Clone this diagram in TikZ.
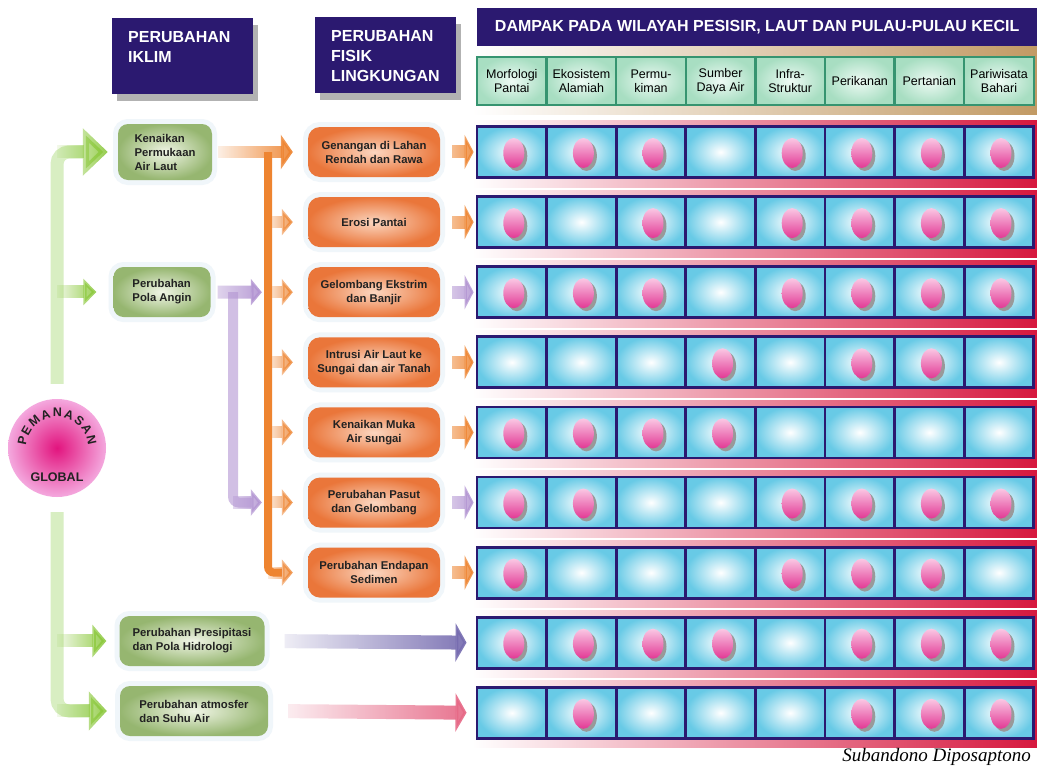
\documentclass[tikz,border=0pt]{standalone}
\usepackage{fontspec}
\setmainfont{Liberation Sans}
\newfontfamily\capserif{Liberation Serif}
\usetikzlibrary{calc,shapes,arrows.meta,fadings,shadows,decorations.text}

\definecolor{navy}{RGB}{43,25,112}
\definecolor{cellcyan}{RGB}{104,202,230}
\definecolor{crimson}{RGB}{214,24,62}
\definecolor{tanbg}{RGB}{194,154,100}
\definecolor{mintin}{RGB}{238,250,244}
\definecolor{mintout}{RGB}{168,222,194}
\definecolor{hdteal}{RGB}{54,148,112}
\definecolor{orgin}{RGB}{251,214,192}
\definecolor{orgout}{RGB}{234,118,58}
\definecolor{grnin}{RGB}{240,245,230}
\definecolor{grnout}{RGB}{150,182,112}
\definecolor{halo}{RGB}{240,246,250}
\definecolor{gpale}{RGB}{216,238,194}
\definecolor{gstrong}{RGB}{138,200,58}
\definecolor{oline}{RGB}{238,132,48}
\definecolor{pstrong}{RGB}{178,148,210}
\definecolor{indigoarr}{RGB}{118,108,176}
\definecolor{rosearr}{RGB}{230,104,134}
\definecolor{pinkin}{RGB}{226,20,126}
\definecolor{pinkout}{RGB}{244,168,222}
\definecolor{dotlt}{RGB}{250,200,228}
\definecolor{dotdk}{RGB}{226,56,148}
\definecolor{ink}{RGB}{34,34,34}

\tikzfading[name=fade in, left color=transparent!100, right color=transparent!0]
\tikzfading[name=fade soft, left color=transparent!75, right color=transparent!0]

\begin{document}
\begin{tikzpicture}[x=1pt,y=-1pt,
    hdr/.style={fill=navy,text=white,anchor=north west,inner xsep=16pt,inner ysep=13pt,
      font=\fontsize{16}{20}\selectfont\bfseries,
      drop shadow={shadow xshift=5pt,shadow yshift=-7pt,fill=black,opacity=.3}},
    colhd/.style={draw=hdteal,line width=2.5pt,inner color=mintin,outer color=mintout,
      minimum width=69.6pt,minimum height=48pt,inner sep=0pt,align=center,
      font=\fontsize{12.5}{14}\selectfont},
    sel/.style={draw=navy,line width=2.8pt,inner color=white,outer color=cellcyan,
      minimum width=69.6pt,minimum height=51pt,inner sep=0pt},
    iklimbox/.style={rounded corners=10pt,inner color=grnin,outer color=grnout,
      preaction={draw=halo,line width=10pt},minimum height=50pt,inner sep=0pt,
      align=left,text=ink,font=\fontsize{11.3}{14}\selectfont\bfseries},
    fisikbox/.style={rounded corners=12pt,inner color=orgin,outer color=orgout,
      preaction={draw=halo,line width=10pt},minimum width=132pt,minimum height=50pt,
      inner sep=0pt,align=center,text=ink,font=\fontsize{11.3}{14}\selectfont\bfseries},
    pmfont/.style={text=ink,inner sep=0pt,font=\fontsize{12.5}{14}\selectfont\bfseries},
    gtrunk/.style={draw=gpale,line width=13pt,rounded corners=12pt,shorten <=15pt},
    garrow/.style={draw=gstrong,line width=13pt,path fading=fade in,fading transform={yscale=8}},
    otrunk/.style={draw=oline,line width=8pt,rounded corners=6pt},
    oarrow/.style={draw=oline,line width=12pt,path fading=fade in,fading transform={yscale=8}},
    ptrunk/.style={draw=pstrong!60!white,line width=10pt,rounded corners=6pt},
    parrow/.style={draw=pstrong,line width=13pt,path fading=fade soft,fading transform={yscale=8}},
    marrow/.style={line width=13pt,path fading=fade soft,fading transform={yscale=8},
      shorten <=12pt,shorten >=2pt,-{Triangle[length=9pt,width=34pt]}},
    larrow/.style={line width=14pt,path fading=fade in,fading transform={yscale=8},
      shorten <=20pt,shorten >=9pt,-{Triangle[length=11pt,width=38pt]}}
  ]
  \useasboundingbox (0,0) rectangle (1037,769);
  \fill[white] (0,0) rectangle (1037,769);

  % latar belakang matriks
  \shade[left color=white,right color=tanbg] (472,46) rectangle (1037,114);
  \foreach \r in {1,...,9}
    \shade[left color=white,right color=crimson] (472,{152+70.1*(\r-1)-32}) rectangle (1037,{152+70.1*(\r-1)+35});

  \node[hdr] (hdiklim) at (112,18) {\parbox[c][50pt][t]{109pt}{PERUBAHAN\\IKLIM}};
  \node[hdr] (hdfisik) at (315,17) {\parbox[c][50pt][t]{109pt}{PERUBAHAN\\FISIK\\LINGKUNGAN}};
  \node[fill=navy,text=white,anchor=north west,minimum width=560pt,minimum height=38pt,inner sep=0pt,
    font=\fontsize{16}{18}\selectfont\bfseries] (hddampak) at (477,8)
    {DAMPAK PADA WILAYAH PESISIR, LAUT DAN PULAU-PULAU KECIL};

  \foreach \c/\txt in {1/{Morfologi\\Pantai},2/{Ekosistem\\Alamiah},3/{Permu-\\kiman},
      4/{Sumber\\Daya Air},5/{Infra-\\Struktur},6/{Perikanan},7/{Pertanian},8/{Pariwisata\\Bahari}}
    \node[colhd] (col\c) at ({477+69.6*(\c-0.5)},81) {\txt};

  \foreach \r in {1,...,9}
    \foreach \c in {1,...,8}
      \node[sel] (sel-\r-\c) at ({477+69.6*(\c-0.5)},{152+70.1*(\r-1)}) {};

  \foreach \r/\pat in {1/{1,1,1,0,1,1,1,1},2/{1,0,1,0,1,1,1,1},3/{1,1,1,0,1,1,1,1},
      4/{0,0,0,1,0,1,1,0},5/{1,1,1,1,0,0,0,0},6/{1,1,0,0,1,1,1,1},7/{1,0,0,0,1,1,1,0},
      8/{1,1,1,1,0,1,1,1},9/{0,1,0,0,0,1,1,1}}
    \foreach \v [count=\c] in \pat {
      \ifnum\v=1
        \fill[black!40] ($(sel-\r-\c)+(5,4)$) ellipse (10.5 and 15);
        \shade[top color=dotlt,bottom color=dotdk] ($(sel-\r-\c)+(2,1)$) ellipse (10.5 and 15);
      \fi
    }

  \node[circle,minimum size=98pt,inner sep=0pt,inner color=pinkin,outer color=pinkout] (global) at (57,448) {};
  \path[decorate,decoration={text along path,text align={fit to path},text color=ink,
      text={|\fontsize{12.5}{14}\selectfont\bfseries|PEMANASAN}}]
    ($(global.center)+(-176:31)$) arc[start angle=-176,end angle=-4,radius=31];
  \node[pmfont] (globword) at ($(global.center)+(0,29)$) {GLOBAL};

  \node[iklimbox,minimum width=94pt,minimum height=56pt] (iklim1) at (165,152) {Kenaikan\\Permukaan\\Air Laut};
  \node[iklimbox,minimum width=97pt] (iklim2) at (162,292) {Perubahan\\Pola Angin};
  \node[iklimbox,minimum width=145pt] (iklim3) at (192,641) {Perubahan Presipitasi\\dan Pola Hidrologi};
  \node[iklimbox,minimum width=148pt] (iklim4) at (194,711) {Perubahan atmosfer\\dan Suhu Air};

  \foreach \i/\txt in {1/{Genangan di Lahan\\Rendah dan Rawa},2/{Erosi Pantai},
      3/{Gelombang Ekstrim\\dan Banjir},4/{Intrusi Air Laut ke\\Sungai dan air Tanah},
      5/{Kenaikan Muka\\Air sungai},6/{Perubahan Pasut\\dan Gelombang},7/{Perubahan Endapan\\Sedimen}}
    \node[fisikbox] (fisik\i) at (374,{152+70.1*(\i-1)}) {\txt};

  % panah hijau dari pemanasan global
  \draw[gtrunk] (global.north) |- ([xshift=-35pt]iklim1.west);
  \draw[garrow,-{Triangle[length=25pt,width=46pt]}] (global.north |- iklim1.west) -- ([xshift=-10pt]iklim1.west);
  \draw[garrow,-{Triangle[length=13pt,width=26pt]}] (global.north |- iklim2.west) -- ([xshift=-17pt]iklim2.west);
  \draw[gtrunk] (global.south) |- ([xshift=-31pt]iklim4.west);
  \draw[garrow,-{Triangle[length=18pt,width=38pt]}] (global.south |- iklim4.west) -- ([xshift=-13pt]iklim4.west);
  \draw[garrow,-{Triangle[length=14pt,width=32pt]}] (global.south |- iklim3.west) -- ([xshift=-13pt]iklim3.west);

  % panah oranye
  \coordinate (ojoint) at (268,152);
  \draw[otrunk] (ojoint) -- (ojoint |- fisik7.west) -- ([xshift=-26pt]fisik7.west);
  \draw[oarrow,shorten <=6pt,-{Triangle[length=12pt,width=34pt]}] (iklim1.east) -- ([xshift=-15pt]fisik1.west);
  \foreach \i in {2,...,7}
    \draw[oarrow,-{Triangle[length=11pt,width=26pt]}] (ojoint |- fisik\i.west) -- ([xshift=-15pt]fisik\i.west);

  % panah ungu
  \coordinate (pjoint) at (233,292);
  \draw[ptrunk] (pjoint) -- (pjoint |- fisik6.west) -- ([xshift=-56pt]fisik6.west);
  \draw[parrow,shorten <=7pt,-{Triangle[length=11pt,width=26pt]}] (iklim2.east) -- ([xshift=-46pt]fisik3.west);
  \draw[parrow,-{Triangle[length=11pt,width=26pt]}] (pjoint |- fisik6.west) -- ([xshift=-46pt]fisik6.west);

  % panah ke matriks
  \foreach \i/\col in {1/oline,2/oline,3/pstrong,4/oline,5/oline,6/pstrong,7/oline}
    \draw[marrow,draw=\col] (fisik\i.east) -- (sel-\i-1.west);
  \draw[larrow,draw=indigoarr] (iklim3.east) -- (sel-8-1.west);
  \draw[larrow,draw=rosearr] (iklim4.east) -- (sel-9-1.west);

  \node[font=\capserif\itshape\fontsize{19}{22}\selectfont,anchor=east,inner sep=0pt] (sumber) at (1031,757) {Subandono Diposaptono};
\end{tikzpicture}
\end{document}
